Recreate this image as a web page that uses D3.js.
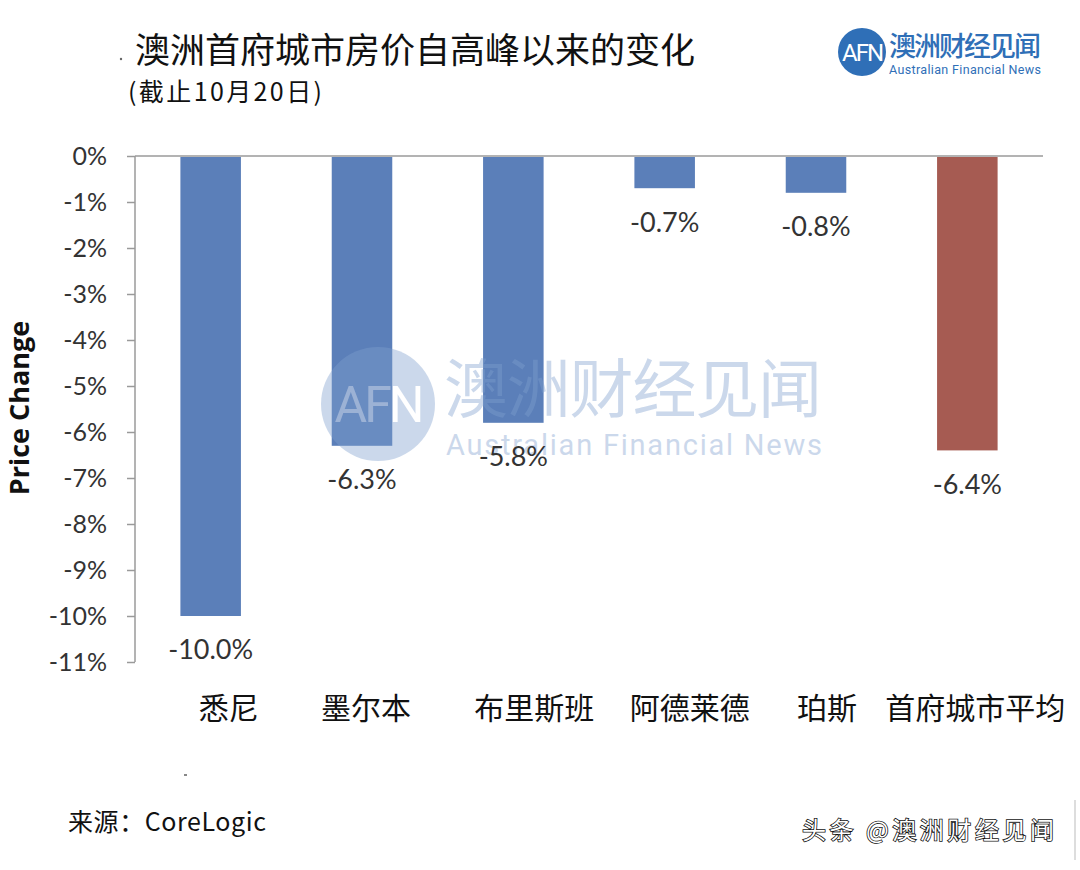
<!DOCTYPE html>
<html><head><meta charset="utf-8">
<script src="https://cdn.jsdelivr.net/npm/d3@7"></script>
<style>body{margin:0;background:#fff}svg{display:block}</style>
</head><body>
<svg id="c" width="1080" height="870"></svg>
<script>
const categories = ["悉尼","墨尔本","布里斯班","阿德莱德","珀斯","首府城市平均"];
const values = [-10.0,-6.3,-5.8,-0.7,-0.8,-6.4];
const tickValues = [0,-1,-2,-3,-4,-5,-6,-7,-8,-9,-10,-11];
const barColors = ["#5b7fb9","#5b7fb9","#5b7fb9","#5b7fb9","#5b7fb9","#a65b52"];
// layout: horizontal nudges of category labels as placed in the reference
const labelNudge = [18,4,21,25,11,8];

const svg = d3.select("#c");
const cjk = "'Noto Sans CJK SC', sans-serif";
const lat = "Lato, 'Open Sans', sans-serif";

const x = d3.scaleBand().domain(categories).range([135,1043]).paddingInner(0.6).paddingOuter(0.3);
const y = d3.scaleLinear().domain([0,-11]).range([156,662]);

// axes
const yAxis = d3.axisLeft(y).tickValues(tickValues).tickSize(8).tickFormat(d=>d+"%");
const gy = svg.append("g").attr("transform","translate(135,0)").call(yAxis);
gy.select(".domain").attr("stroke","#9a9a9a").attr("stroke-width",1.5).attr("d","M0,156V662");
gy.selectAll(".tick line").attr("stroke","#9a9a9a").attr("stroke-width",1.5);
gy.selectAll(".tick text").attr("font-family",lat).attr("font-size",25).attr("fill","#333").attr("x",-28).attr("dy","0.35em");

svg.append("line").attr("x1",135).attr("x2",1043).attr("y1",y(0)).attr("y2",y(0)).attr("stroke","#9a9a9a").attr("stroke-width",1.5);

// bars
svg.append("g").selectAll("rect").data(values).join("rect")
  .attr("x",(d,i)=>x(categories[i]))
  .attr("width",x.bandwidth())
  .attr("y",y(0)+1)
  .attr("height",d=>y(d)-y(0)-1)
  .attr("fill",(d,i)=>barColors[i]);

// watermark
const wm = svg.append("g").attr("opacity",0.4);
wm.append("circle").attr("cx",378).attr("cy",404).attr("r",57).attr("fill","#7fa0cf");
wm.append("text").attr("x",378).attr("y",422).attr("text-anchor","middle").attr("font-family","Roboto, sans-serif")
  .attr("font-size",50).attr("fill","#fff").attr("letter-spacing",-3).text("AFN");
wm.append("text").attr("x",444).attr("y",412).attr("font-family",cjk).attr("font-size",64).attr("fill","#7fa0cf")
  .attr("textLength",378).text("澳洲财经见闻");
wm.append("text").attr("x",446).attr("y",455).attr("font-family","Roboto, sans-serif").attr("font-size",29).attr("fill","#7fa0cf")
  .attr("textLength",376).text("Australian Financial News");

// value labels
svg.append("g").selectAll("text").data(values).join("text")
  .attr("x",(d,i)=>x(categories[i])+x.bandwidth()/2)
  .attr("y",d=>y(d)+34)
  .attr("dy","0.35em")
  .attr("text-anchor","middle")
  .attr("font-family",lat).attr("font-size",27).attr("fill","#333")
  .text(d=>d.toFixed(1)+"%");

// category labels
svg.append("g").selectAll("text").data(categories).join("text")
  .attr("x",(d,i)=>x(d)+x.bandwidth()/2+labelNudge[i])
  .attr("y",708).attr("dy","0.35em")
  .attr("text-anchor","middle")
  .attr("font-family",cjk).attr("font-size",30).attr("fill","#111")
  .text(d=>d);

// y label
svg.append("text").attr("transform","translate(29,408) rotate(-90)")
  .attr("text-anchor","middle").attr("font-family","'Open Sans', sans-serif")
  .attr("font-weight","bold").attr("font-size",27).attr("fill","#111").text("Price Change");

// title
svg.append("text").attr("x",135).attr("y",63).attr("font-family",cjk).attr("font-size",35).attr("fill","#111")
  .attr("textLength",560).text("澳洲首府城市房价自高峰以来的变化");
svg.append("text").attr("x",128).attr("y",101).attr("font-family",cjk).attr("font-size",25).attr("fill","#111")
  .attr("textLength",194).text("(截止10月20日)");
svg.append("circle").attr("cx",121).attr("cy",59).attr("r",1.2).attr("fill","#666");

// logo
svg.append("circle").attr("cx",862).attr("cy",52).attr("r",24).attr("fill","#2f6fb7");
svg.append("text").attr("x",862).attr("y",61).attr("text-anchor","middle").attr("font-family","Roboto, sans-serif")
  .attr("font-size",24).attr("fill","#fff").attr("letter-spacing",-2).text("AFN");
svg.append("text").attr("x",889).attr("y",56).attr("font-family",cjk).attr("font-size",27).attr("font-weight","500").attr("fill","#2f6fb7")
  .attr("textLength",152).text("澳洲财经见闻");
svg.append("text").attr("x",889).attr("y",74).attr("font-family","Roboto, sans-serif").attr("font-size",12.5).attr("fill","#2f6fb7")
  .attr("textLength",152).text("Australian Financial News");

// source
svg.append("text").attr("x",68).attr("y",831).attr("font-family",cjk).attr("font-size",25).attr("fill","#111")
  .attr("textLength",198).text("来源：CoreLogic");
svg.append("rect").attr("x",184).attr("y",774).attr("width",3).attr("height",2).attr("fill","#888");

// bottom-right watermark
svg.append("text").attr("x",802).attr("y",839).attr("font-family",cjk).attr("font-size",24)
  .attr("fill","#fff").attr("stroke","#111").attr("stroke-width",1.6).attr("paint-order","stroke")
  .attr("textLength",252).text("头条 @澳洲财经见闻");
svg.append("line").attr("x1",1075).attr("x2",1075).attr("y1",800).attr("y2",860).attr("stroke","#bbb");
</script>
</body></html>
